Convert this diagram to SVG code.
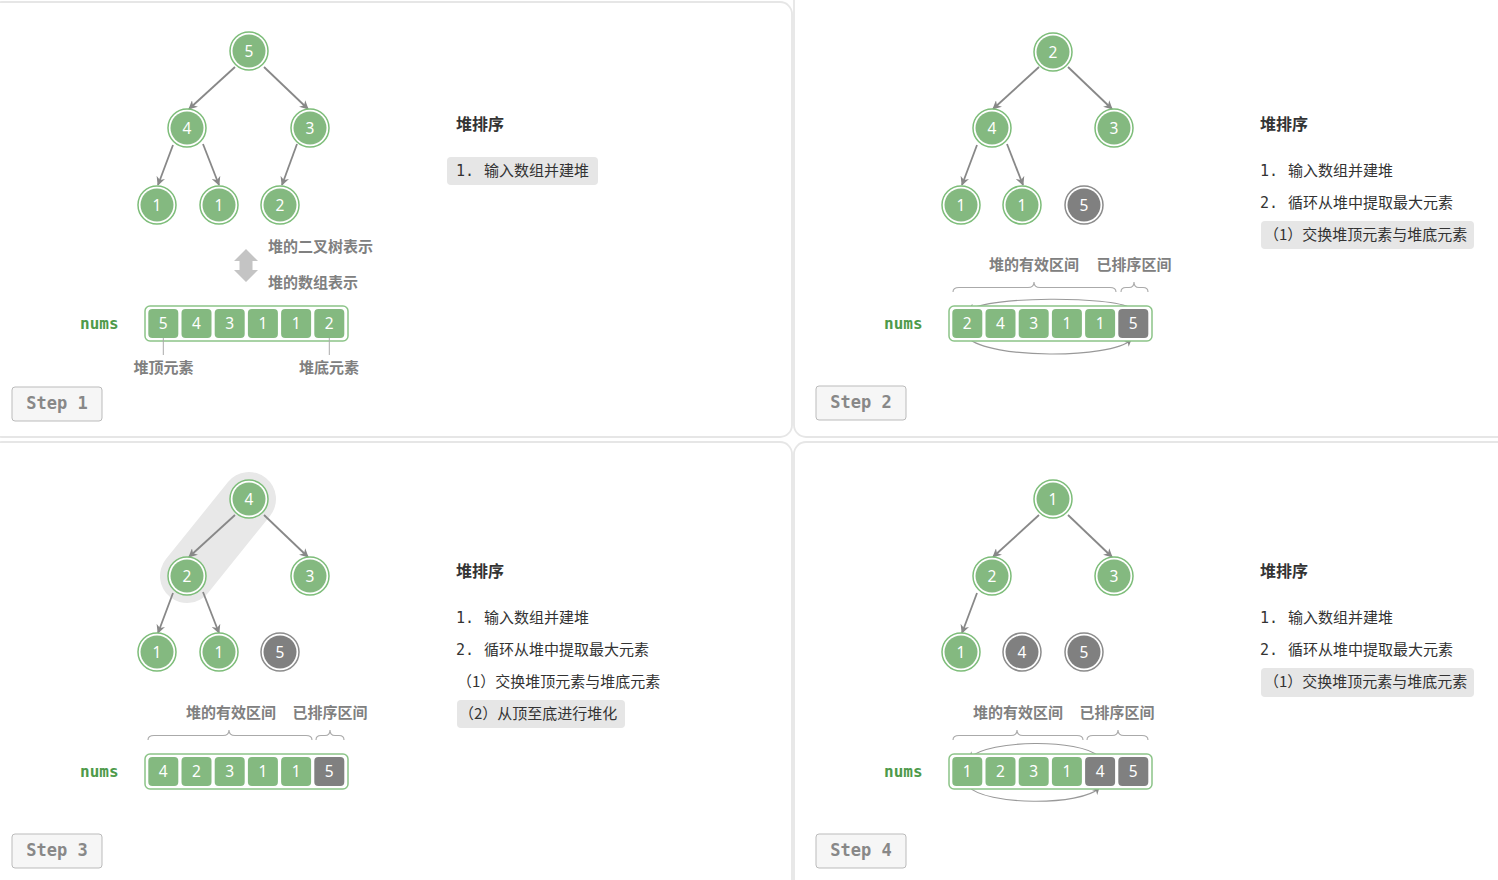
<svg xmlns="http://www.w3.org/2000/svg" width="1498" height="880" viewBox="0 0 1498 880">
<style>
.panel{fill:#ffffff;stroke:#e6e6e6;stroke-width:1.8}
.ring{fill:#ffffff;stroke:#7dbd79;stroke-width:1.5}
.fill{fill:#84b980}
.gring{fill:#ffffff;stroke:#8c8c8c;stroke-width:1.5}
.gfill{fill:#808080}
.nt{font-family:"Noto Sans","DejaVu Sans",sans-serif;font-size:15.5px;fill:#ffffff;text-anchor:middle;dominant-baseline:central}
.edge{stroke:#888888;stroke-width:1.8;fill:none;marker-end:url(#arr)}
.arc{stroke:#999999;stroke-width:1.1;fill:none;marker-end:url(#arr2)}
.brace{stroke:#aaaaaa;stroke-width:1.1;fill:none}
.outer{fill:#ffffff;stroke:#8cc488;stroke-width:1.5}
.cell{fill:#84b980}
.gcell{fill:#808080}
.ct{font-family:"Noto Sans","DejaVu Sans",sans-serif;font-size:15.5px;fill:#ffffff;text-anchor:middle;dominant-baseline:central}
.nums{font-family:"DejaVu Sans Mono",monospace;font-weight:bold;font-size:16px;fill:#4e9a4a;dominant-baseline:central}
.lab{font-family:"Noto Sans CJK SC",sans-serif;font-weight:bold;font-size:15px;fill:#808080;dominant-baseline:central;transform:translateY(-1px)}
.title{font-family:"Noto Sans CJK SC",sans-serif;font-weight:bold;font-size:16px;fill:#333333;dominant-baseline:central;transform:translateY(-1px)}
.item{font-family:"Noto Sans CJK SC",sans-serif;font-size:15px;fill:#333333}
.mono{font-family:"DejaVu Sans Mono",monospace;font-size:15px}
.hl{fill:#e6e6e6}
.stepbox{fill:#f6f6f6;stroke:#bbbbbb;stroke-width:1}
.step{font-family:"DejaVu Sans Mono",monospace;font-weight:bold;font-size:17px;fill:#888888;text-anchor:middle;dominant-baseline:central}
.tick{stroke:#aaaaaa;stroke-width:1}
</style>
<defs>
<marker id="arr" viewBox="0 0 10 10" refX="9" refY="5" markerWidth="9" markerHeight="9" markerUnits="userSpaceOnUse" orient="auto">
<path d="M0,0 L10,5 L0,10 L3,5 z" fill="#888888"/>
</marker>
<marker id="arr2" viewBox="0 0 10 10" refX="9" refY="5" markerWidth="7" markerHeight="7" markerUnits="userSpaceOnUse" orient="auto">
<path d="M0,0 L10,5 L0,10 L3,5 z" fill="#888888"/>
</marker>
</defs>

<g id="panels">
<rect class="panel" x="-10" y="2" width="802" height="435" rx="12"/>
<rect class="panel" x="794" y="-12" width="720" height="449" rx="12"/>
<rect class="panel" x="-10" y="442" width="802" height="450" rx="12"/>
<rect class="panel" x="794" y="442" width="720" height="450" rx="12"/>
</g>

<path id="p3-highlight" d="M249,499 L187,576" stroke="#e8e8e8" stroke-width="54" stroke-linecap="round"/>

<g id="connectors">
<path class="edge" d="M235,67 L189,109"/>
<path class="edge" d="M264,67 L308,109"/>
<path class="edge" d="M173,145 L158,185"/>
<path class="edge" d="M203,144 L219,185"/>
<path class="edge" d="M297,144 L282,185"/>

<path class="edge" d="M1039,67 L993,109"/>
<path class="edge" d="M1068,67 L1112,109"/>
<path class="edge" d="M977,145 L962,185"/>
<path class="edge" d="M1007,144 L1023,185"/>

<path class="edge" d="M235,515 L189,557"/>
<path class="edge" d="M264,515 L308,557"/>
<path class="edge" d="M173,593 L158,633"/>
<path class="edge" d="M203,592 L219,633"/>

<path class="edge" d="M1039,515 L993,557"/>
<path class="edge" d="M1068,515 L1112,557"/>
<path class="edge" d="M977,593 L962,633"/>

<path class="arc" d="M1131,308 C1110,296 990,296 969,310"/>
<path class="arc" d="M968,338 C990,359 1110,359 1131,340"/>
<path class="arc" d="M1098,756 C1080,739 990,739 969,758"/>
<path class="arc" d="M968,786 C985,806 1082,806 1099,788"/>
</g>

<!-- Panel 1 nodes -->
<g id="p1-n0"><circle class="ring" cx="249" cy="51" r="19"/><circle class="fill" cx="249" cy="51" r="16.5"/><text class="nt" x="249" y="51">5</text></g>
<g id="p1-n1"><circle class="ring" cx="187" cy="128" r="19"/><circle class="fill" cx="187" cy="128" r="16.5"/><text class="nt" x="187" y="128">4</text></g>
<g id="p1-n2"><circle class="ring" cx="310" cy="128" r="19"/><circle class="fill" cx="310" cy="128" r="16.5"/><text class="nt" x="310" y="128">3</text></g>
<g id="p1-n3"><circle class="ring" cx="157" cy="205" r="19"/><circle class="fill" cx="157" cy="205" r="16.5"/><text class="nt" x="157" y="205">1</text></g>
<g id="p1-n4"><circle class="ring" cx="219" cy="205" r="19"/><circle class="fill" cx="219" cy="205" r="16.5"/><text class="nt" x="219" y="205">1</text></g>
<g id="p1-n5"><circle class="ring" cx="280" cy="205" r="19"/><circle class="fill" cx="280" cy="205" r="16.5"/><text class="nt" x="280" y="205">2</text></g>

<g id="p1-extra">
<polygon points="246,249 258,261 252.5,261 252.5,270 258,270 246,282 234,270 239.5,270 239.5,261 234,261" fill="#c4c4c4"/>
<text class="lab" x="268" y="246">堆的二叉树表示</text>
<text class="lab" x="268" y="282">堆的数组表示</text>
<text class="nums" x="80" y="323">nums</text>
</g>
<g id="p1-array">
<rect class="outer" x="145" y="306" width="203" height="35" rx="5"/>
<rect class="cell" x="148.3" y="309" width="30" height="29" rx="4"/><text class="ct" x="163.3" y="323">5</text>
<rect class="cell" x="181.5" y="309" width="30" height="29" rx="4"/><text class="ct" x="196.5" y="323">4</text>
<rect class="cell" x="214.7" y="309" width="30" height="29" rx="4"/><text class="ct" x="229.7" y="323">3</text>
<rect class="cell" x="247.9" y="309" width="30" height="29" rx="4"/><text class="ct" x="262.9" y="323">1</text>
<rect class="cell" x="281.1" y="309" width="30" height="29" rx="4"/><text class="ct" x="296.1" y="323">1</text>
<rect class="cell" x="314.3" y="309" width="30" height="29" rx="4"/><text class="ct" x="329.3" y="323">2</text>
<line class="tick" x1="163.3" y1="338" x2="163.3" y2="355"/>
<line class="tick" x1="329.3" y1="338" x2="329.3" y2="355"/>
<text class="lab" x="163.5" y="367" text-anchor="middle">堆顶元素</text>
<text class="lab" x="329" y="367" text-anchor="middle">堆底元素</text>
</g>
<g id="p1-text">
<text class="title" x="456" y="124">堆排序</text>
<rect class="hl" x="447" y="157" width="151" height="28" rx="4"/>
<text class="item" x="456" y="176"><tspan class="mono">1.</tspan><tspan x="484">输入数组并建堆</tspan></text>
</g>
<g id="p1-step"><rect class="stepbox" x="12" y="387" width="90" height="34" rx="3"/><text class="step" x="57" y="403">Step 1</text></g>

<!-- Panel 2 nodes -->
<g id="p2-n0"><circle class="ring" cx="1053" cy="52" r="19"/><circle class="fill" cx="1053" cy="52" r="16.5"/><text class="nt" x="1053" y="52">2</text></g>
<g id="p2-n1"><circle class="ring" cx="992" cy="128" r="19"/><circle class="fill" cx="992" cy="128" r="16.5"/><text class="nt" x="992" y="128">4</text></g>
<g id="p2-n2"><circle class="ring" cx="1114" cy="128" r="19"/><circle class="fill" cx="1114" cy="128" r="16.5"/><text class="nt" x="1114" y="128">3</text></g>
<g id="p2-n3"><circle class="ring" cx="961" cy="205" r="19"/><circle class="fill" cx="961" cy="205" r="16.5"/><text class="nt" x="961" y="205">1</text></g>
<g id="p2-n4"><circle class="ring" cx="1022" cy="205" r="19"/><circle class="fill" cx="1022" cy="205" r="16.5"/><text class="nt" x="1022" y="205">1</text></g>
<g id="p2-n5"><circle class="gring" cx="1084" cy="205" r="19"/><circle class="gfill" cx="1084" cy="205" r="16.5"/><text class="nt" x="1084" y="205">5</text></g>

<g id="p2-array">
<text class="lab" x="1034" y="264" text-anchor="middle">堆的有效区间</text>
<text class="lab" x="1134" y="264" text-anchor="middle">已排序区间</text>
<path class="brace" d="M953,292 Q953,287.5 959,287.5 L1028,287.5 Q1034,287.5 1034,282 Q1034,287.5 1040,287.5 L1110,287.5 Q1116,287.5 1116,292"/>
<path class="brace" d="M1121,292 Q1121,287.5 1126,287.5 L1129,287.5 Q1134,287.5 1134,282 Q1134,287.5 1139,287.5 L1143,287.5 Q1148,287.5 1148,292"/>
<text class="nums" x="884" y="323">nums</text>
<rect class="outer" x="949" y="306" width="203" height="35" rx="5"/>
<rect class="cell" x="952.3" y="309" width="30" height="29" rx="4"/><text class="ct" x="967.3" y="323">2</text>
<rect class="cell" x="985.5" y="309" width="30" height="29" rx="4"/><text class="ct" x="1000.5" y="323">4</text>
<rect class="cell" x="1018.7" y="309" width="30" height="29" rx="4"/><text class="ct" x="1033.7" y="323">3</text>
<rect class="cell" x="1051.9" y="309" width="30" height="29" rx="4"/><text class="ct" x="1066.9" y="323">1</text>
<rect class="cell" x="1085.1" y="309" width="30" height="29" rx="4"/><text class="ct" x="1100.1" y="323">1</text>
<rect class="gcell" x="1118.3" y="309" width="30" height="29" rx="4"/><text class="ct" x="1133.3" y="323">5</text>
</g>
<g id="p2-text">
<text class="title" x="1260" y="124">堆排序</text>
<text class="item" x="1260" y="176"><tspan class="mono">1.</tspan><tspan x="1288">输入数组并建堆</tspan></text>
<text class="item" x="1260" y="208"><tspan class="mono">2.</tspan><tspan x="1288">循环从堆中提取最大元素</tspan></text>
<rect class="hl" x="1261" y="221" width="213" height="28" rx="4"/>
<text class="item" x="1264" y="240">（1）交换堆顶元素与堆底元素</text>
</g>
<g id="p2-step"><rect class="stepbox" x="816" y="386" width="90" height="34" rx="3"/><text class="step" x="861" y="402">Step 2</text></g>

<!-- Panel 3 nodes -->
<g id="p3-n0"><circle class="ring" cx="249" cy="499" r="19"/><circle class="fill" cx="249" cy="499" r="16.5"/><text class="nt" x="249" y="499">4</text></g>
<g id="p3-n1"><circle class="ring" cx="187" cy="576" r="19"/><circle class="fill" cx="187" cy="576" r="16.5"/><text class="nt" x="187" y="576">2</text></g>
<g id="p3-n2"><circle class="ring" cx="310" cy="576" r="19"/><circle class="fill" cx="310" cy="576" r="16.5"/><text class="nt" x="310" y="576">3</text></g>
<g id="p3-n3"><circle class="ring" cx="157" cy="652" r="19"/><circle class="fill" cx="157" cy="652" r="16.5"/><text class="nt" x="157" y="652">1</text></g>
<g id="p3-n4"><circle class="ring" cx="219" cy="652" r="19"/><circle class="fill" cx="219" cy="652" r="16.5"/><text class="nt" x="219" y="652">1</text></g>
<g id="p3-n5"><circle class="gring" cx="280" cy="652" r="19"/><circle class="gfill" cx="280" cy="652" r="16.5"/><text class="nt" x="280" y="652">5</text></g>

<g id="p3-array">
<text class="lab" x="231" y="712" text-anchor="middle">堆的有效区间</text>
<text class="lab" x="330" y="712" text-anchor="middle">已排序区间</text>
<path class="brace" d="M148,740 Q148,735.5 154,735.5 L223,735.5 Q229,735.5 229,730 Q229,735.5 235,735.5 L306,735.5 Q312,735.5 312,740"/>
<path class="brace" d="M316,740 Q316,735.5 321,735.5 L325,735.5 Q330,735.5 330,730 Q330,735.5 335,735.5 L339,735.5 Q344,735.5 344,740"/>
<text class="nums" x="80" y="771">nums</text>
<rect class="outer" x="145" y="754" width="203" height="35" rx="5"/>
<rect class="cell" x="148.3" y="757" width="30" height="29" rx="4"/><text class="ct" x="163.3" y="771">4</text>
<rect class="cell" x="181.5" y="757" width="30" height="29" rx="4"/><text class="ct" x="196.5" y="771">2</text>
<rect class="cell" x="214.7" y="757" width="30" height="29" rx="4"/><text class="ct" x="229.7" y="771">3</text>
<rect class="cell" x="247.9" y="757" width="30" height="29" rx="4"/><text class="ct" x="262.9" y="771">1</text>
<rect class="cell" x="281.1" y="757" width="30" height="29" rx="4"/><text class="ct" x="296.1" y="771">1</text>
<rect class="gcell" x="314.3" y="757" width="30" height="29" rx="4"/><text class="ct" x="329.3" y="771">5</text>
</g>
<g id="p3-text">
<text class="title" x="456" y="571">堆排序</text>
<text class="item" x="456" y="623"><tspan class="mono">1.</tspan><tspan x="484">输入数组并建堆</tspan></text>
<text class="item" x="456" y="655"><tspan class="mono">2.</tspan><tspan x="484">循环从堆中提取最大元素</tspan></text>
<text class="item" x="457" y="687">（1）交换堆顶元素与堆底元素</text>
<rect class="hl" x="457" y="700" width="168" height="28" rx="4"/>
<text class="item" x="459" y="719">（2）从顶至底进行堆化</text>
</g>
<g id="p3-step"><rect class="stepbox" x="12" y="834" width="90" height="34" rx="3"/><text class="step" x="57" y="850">Step 3</text></g>

<!-- Panel 4 nodes -->
<g id="p4-n0"><circle class="ring" cx="1053" cy="499" r="19"/><circle class="fill" cx="1053" cy="499" r="16.5"/><text class="nt" x="1053" y="499">1</text></g>
<g id="p4-n1"><circle class="ring" cx="992" cy="576" r="19"/><circle class="fill" cx="992" cy="576" r="16.5"/><text class="nt" x="992" y="576">2</text></g>
<g id="p4-n2"><circle class="ring" cx="1114" cy="576" r="19"/><circle class="fill" cx="1114" cy="576" r="16.5"/><text class="nt" x="1114" y="576">3</text></g>
<g id="p4-n3"><circle class="ring" cx="961" cy="652" r="19"/><circle class="fill" cx="961" cy="652" r="16.5"/><text class="nt" x="961" y="652">1</text></g>
<g id="p4-n4"><circle class="gring" cx="1022" cy="652" r="19"/><circle class="gfill" cx="1022" cy="652" r="16.5"/><text class="nt" x="1022" y="652">4</text></g>
<g id="p4-n5"><circle class="gring" cx="1084" cy="652" r="19"/><circle class="gfill" cx="1084" cy="652" r="16.5"/><text class="nt" x="1084" y="652">5</text></g>

<g id="p4-array">
<text class="lab" x="1018" y="712" text-anchor="middle">堆的有效区间</text>
<text class="lab" x="1117" y="712" text-anchor="middle">已排序区间</text>
<path class="brace" d="M953,740 Q953,735.5 959,735.5 L1011,735.5 Q1017,735.5 1017,730 Q1017,735.5 1023,735.5 L1077,735.5 Q1083,735.5 1083,740"/>
<path class="brace" d="M1087,740 Q1087,735.5 1093,735.5 L1112,735.5 Q1118,735.5 1118,730 Q1118,735.5 1124,735.5 L1142,735.5 Q1148,735.5 1148,740"/>
<text class="nums" x="884" y="771">nums</text>
<rect class="outer" x="949" y="754" width="203" height="35" rx="5"/>
<rect class="cell" x="952.3" y="757" width="30" height="29" rx="4"/><text class="ct" x="967.3" y="771">1</text>
<rect class="cell" x="985.5" y="757" width="30" height="29" rx="4"/><text class="ct" x="1000.5" y="771">2</text>
<rect class="cell" x="1018.7" y="757" width="30" height="29" rx="4"/><text class="ct" x="1033.7" y="771">3</text>
<rect class="cell" x="1051.9" y="757" width="30" height="29" rx="4"/><text class="ct" x="1066.9" y="771">1</text>
<rect class="gcell" x="1085.1" y="757" width="30" height="29" rx="4"/><text class="ct" x="1100.1" y="771">4</text>
<rect class="gcell" x="1118.3" y="757" width="30" height="29" rx="4"/><text class="ct" x="1133.3" y="771">5</text>
</g>
<g id="p4-text">
<text class="title" x="1260" y="571">堆排序</text>
<text class="item" x="1260" y="623"><tspan class="mono">1.</tspan><tspan x="1288">输入数组并建堆</tspan></text>
<text class="item" x="1260" y="655"><tspan class="mono">2.</tspan><tspan x="1288">循环从堆中提取最大元素</tspan></text>
<rect class="hl" x="1261" y="668" width="213" height="29" rx="4"/>
<text class="item" x="1264" y="687">（1）交换堆顶元素与堆底元素</text>
</g>
<g id="p4-step"><rect class="stepbox" x="816" y="834" width="90" height="34" rx="3"/><text class="step" x="861" y="850">Step 4</text></g>
</svg>
